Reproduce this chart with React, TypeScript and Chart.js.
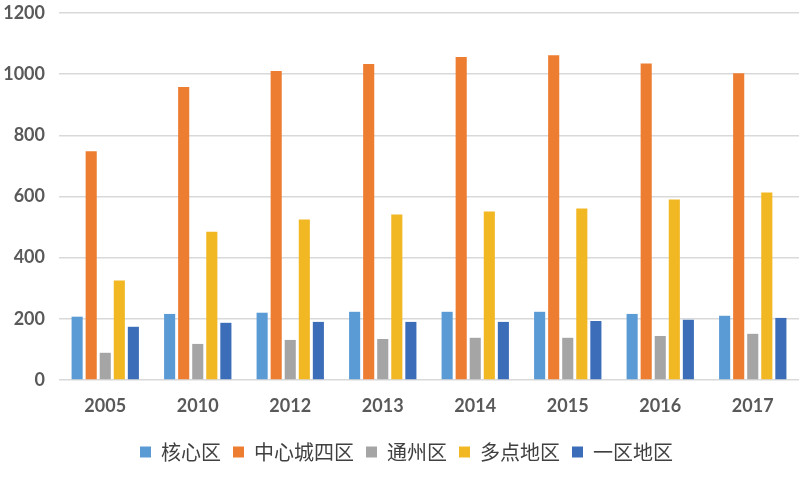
import React, { useEffect, useRef } from "react";
import { Chart, registerables } from "chart.js";

Chart.register(...registerables);

const categories = ["2005", "2010", "2012", "2013", "2014", "2015", "2016", "2017"];
const seriesNames = ["核心区", "中心城四区", "通州区", "多点地区", "一区地区"];
const coreArea = [207, 216, 220, 223, 223, 223, 216, 210];
const centralFour = [748, 958, 1010, 1033, 1056, 1062, 1035, 1003];
const tongzhou = [89, 118, 131, 134, 138, 138, 144, 151];
const multiPoint = [325, 485, 525, 541, 551, 561, 590, 613];
const oneArea = [174, 187, 190, 190, 190, 193, 197, 203];
const yTicks = [0, 200, 400, 600, 800, 1000, 1200];

const colors = ["#5B9BD5", "#ED7D31", "#A5A5A5", "#F2B824", "#3C6DB9"];

const legendShift = {
  id: "legendShift",
  afterLayout(chart: any) {
    const l = chart.legend;
    if (!l) return;
    l.left += 7;
    l.right += 7;
    if (typeof l.adjustHitBoxes === "function") l.adjustHitBoxes();
  },
};

export default function App() {
  const ref = useRef<HTMLCanvasElement | null>(null);
  useEffect(() => {
    if (!ref.current) return;
    const values = [coreArea, centralFour, tongzhou, multiPoint, oneArea];
    const chart = new Chart(ref.current, {
      type: "bar",
      data: {
        labels: categories,
        datasets: seriesNames.map((name, i) => ({
          label: name,
          data: values[i],
          backgroundColor: colors[i],
          borderWidth: 0,
          barPercentage: 0.79,
          categoryPercentage: 0.76,
        })),
      },
      plugins: [legendShift],
      options: {
        responsive: false,
        animation: false,
        layout: { padding: { top: 13, right: 9, left: 0, bottom: 6 } },
        plugins: {
          tooltip: { enabled: false },
          legend: {
            position: "bottom",
            labels: {
              boxWidth: 11,
              boxHeight: 11,
              padding: 12,
              color: "#404040",
              font: { family: "'Noto Sans CJK SC'", size: 20 },
            },
          },
        },
        scales: {
          x: {
            grid: { display: false, drawTicks: false },
            border: { display: false },
            ticks: {
              color: "#595959",
              padding: 15,
              font: { family: "Lato", size: 18, weight: "bold" },
            },
            afterFit: (s: any) => {
              s.height = 50;
              s.paddingLeft = 0;
              s.paddingRight = 0;
            },
          },
          y: {
            min: 0,
            max: 1200,
            afterBuildTicks: (s: any) => {
              s.ticks = yTicks.map((v) => ({ value: v }));
            },
            grid: { color: "#D9D9D9", lineWidth: 1.5, drawTicks: false },
            border: { display: false },
            ticks: {
              color: "#595959",
              padding: 14,
              font: { family: "Lato", size: 18, weight: "bold" },
              callback: (v: any) => String(v),
            },
            afterFit: (s: any) => {
              s.width = 59;
              s.paddingTop = 0;
              s.paddingBottom = 0;
            },
          },
        },
      },
    });
    return () => chart.destroy();
  }, []);
  return (
    <div style={{ position: "absolute", left: 0, top: 0, width: 808, height: 478, background: "#fff" }}>
      <canvas ref={ref} width={808} height={478} style={{ width: 808, height: 478 }} />
    </div>
  );
}
